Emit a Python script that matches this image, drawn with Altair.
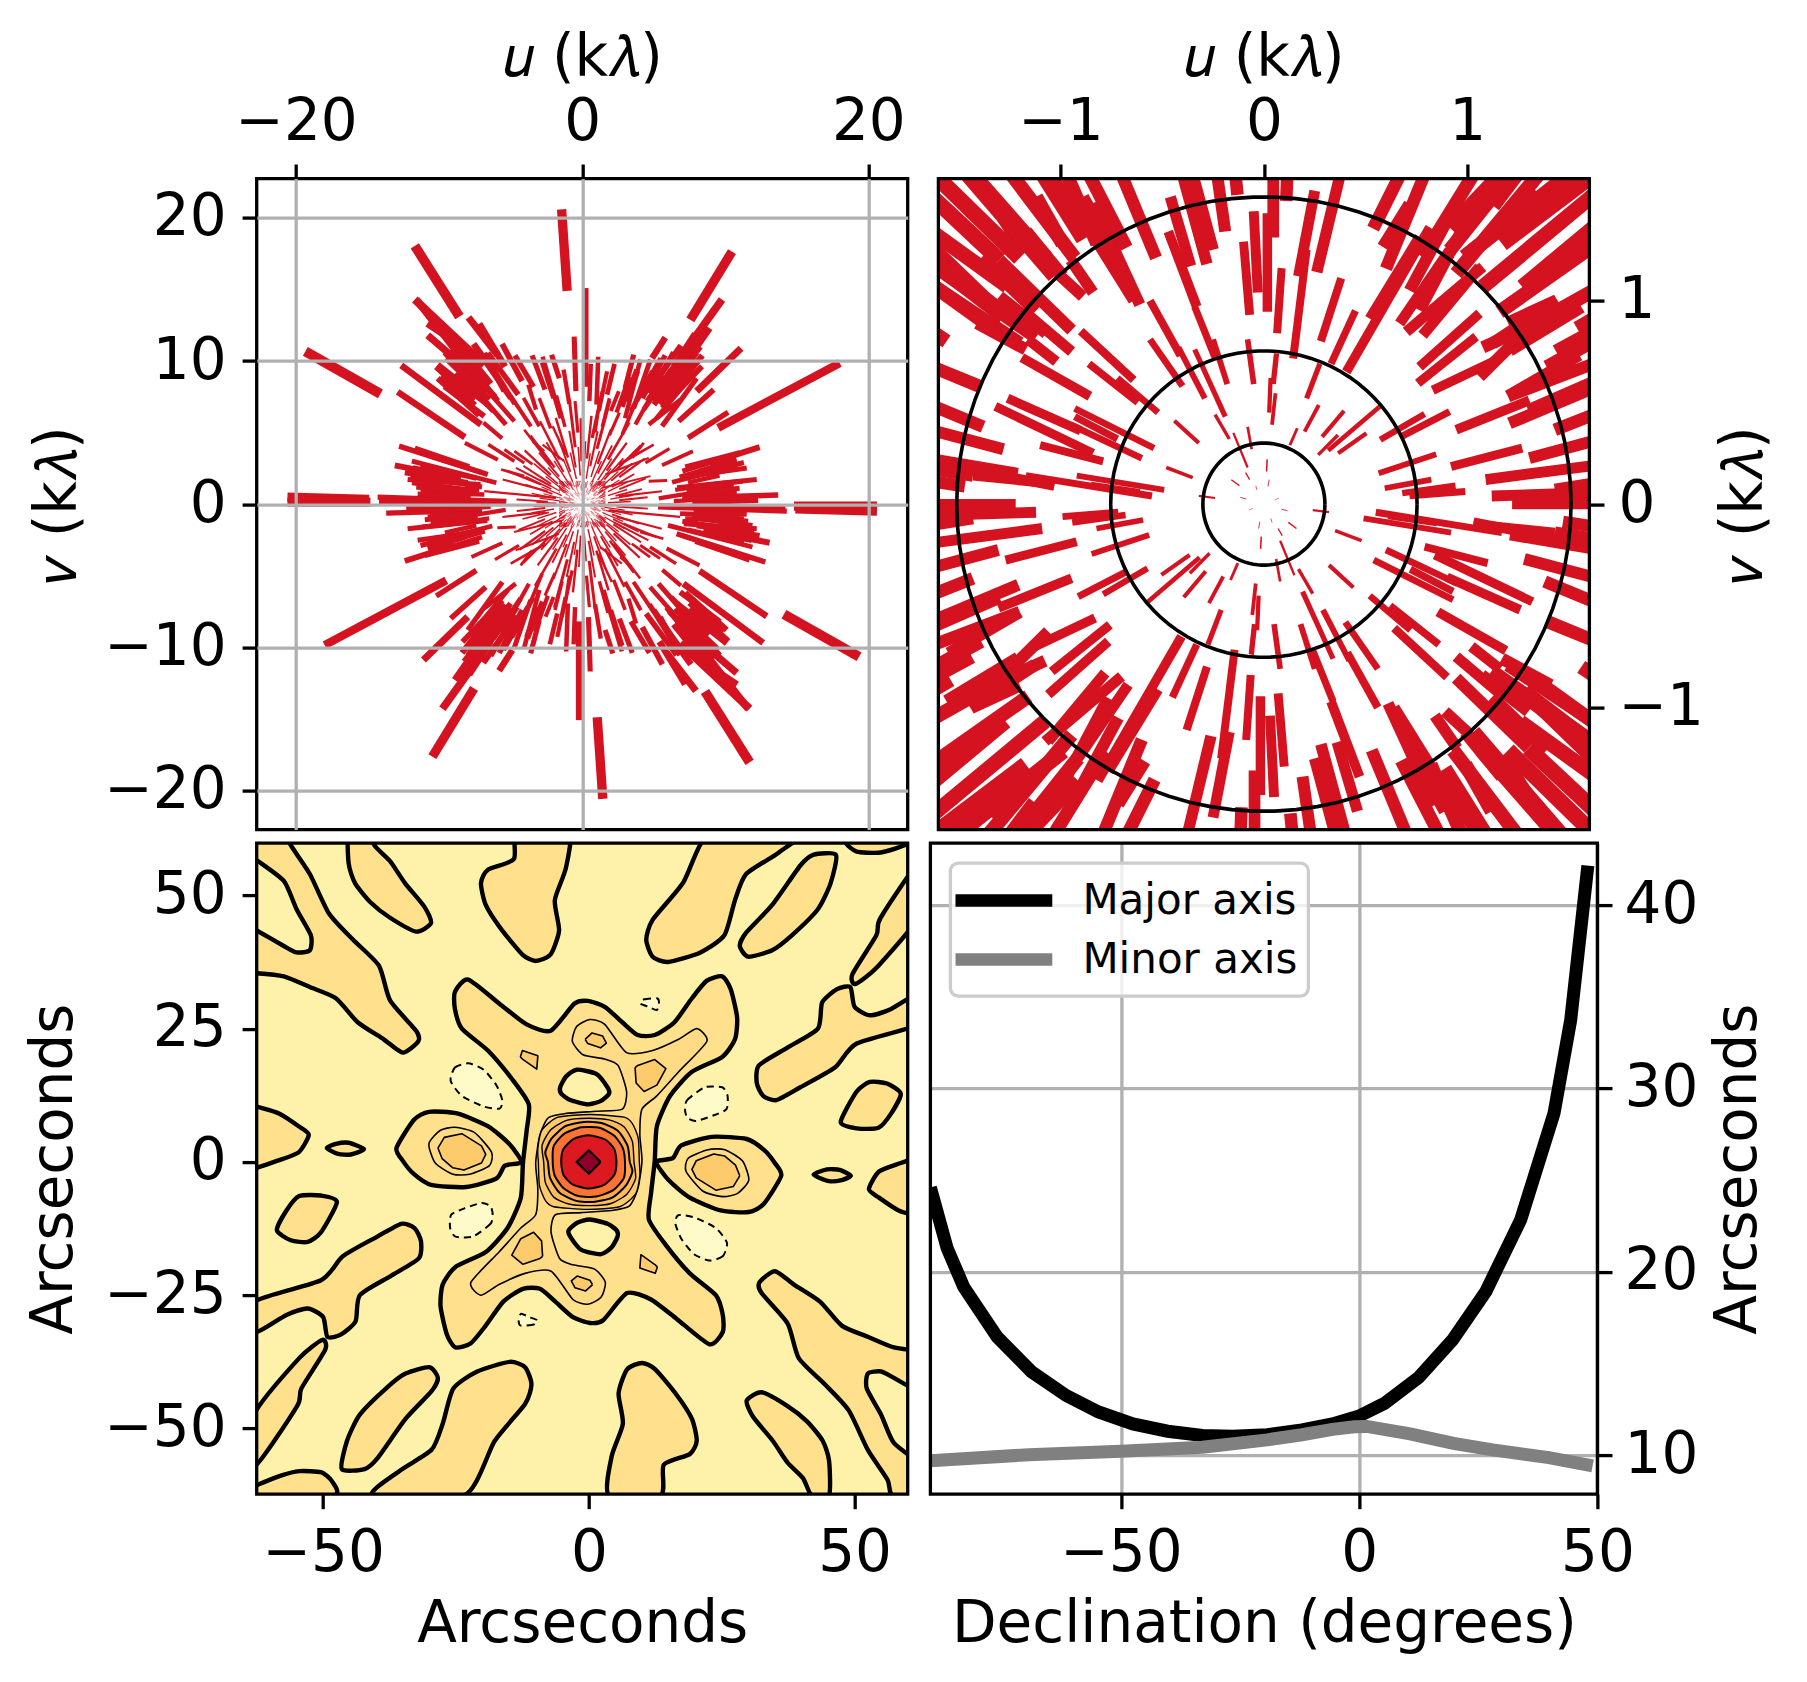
import altair as alt
import numpy as np
import pandas as pd

RED = '#d41220'
GRID = '#b0b0b0'
FONT = 'DejaVu Sans'
UTITLE = '𝑢 (k𝜆)'
VTITLE = '𝑣 (k𝜆)'

# uv tracks, half plane only (u1, v1, u2, v2 in klambda), the other half is the conjugate
UV_INNER_LEFT = [
    (-.03,1.04,-.05,1.44),(-.07,.93,-.10,1.29),(-.05,.59,-.08,.81),(-.18,.59,-.25,.81),(-.06,.27,-.08,.38),
    (-.08,.18,-.15,.35),(-.17,.32,-.24,.44),(-.32,.30,-.44,.41),(-.35,.13,-.48,.18),(-.24,.03,-.32,.04),
    (-.12,.09,-.16,.12),(-.07,.12,-.09,.155),(-.034,.07,-.04,.09),(-.087,.025,-.116,.033),(-.62,.50,-.86,.69),
    (-.52,.45,-.72,.62),(-.64,.61,-.90,.85),(-.40,.58,-.56,.81),(-.29,.52,-.42,.77),(-.41,.73,-.56,1.0),
    (-.19,.43,-.34,.76),(-.24,.72,-.34,.97),(-.33,.97,-.47,1.34),(-.36,1.17,-.46,1.51),(-.28,1.18,-.40,1.62),
    (-.25,1.25,-.35,1.62),(-.19,1.34,-.23,1.62),(-.13,1.52,-.14,1.62),(-.53,1.21,-.70,1.62),(-.61,.98,-.84,1.48),
    (-.64,1.0,-.855,1.345),(-.675,1.26,-.86,1.62),(-.90,1.35,-1.05,1.62),(-.84,1.04,-.95,1.20),(-.89,1.02,-1.01,1.13),
    (-.93,1.21,-1.24,1.62),(-.99,1.28,-1.12,1.51),(-.89,1.30,-1.09,1.62),(-1.17,1.24,-1.36,1.54),(-1.2,1.21,-1.62,1.62),
    (-.945,.855,-1.30,1.20),(-1.30,1.20,-1.62,1.50),(-1.12,.95,-1.39,1.21),(-1.12,.82,-1.62,1.17),(-1.2,.79,-1.62,1.07),
    (-1.30,.84,-1.62,1.07),(-.945,.75,-1.17,.94),(-1.02,.70,-1.16,.81),(-.855,.53,-1.19,.72),(-1.40,.58,-1.62,.67),
    (-.54,.275,-.93,.47),(-.72,.32,-.93,.43),(-.90,.36,-1.26,.52),(-.60,.225,-.95,.39),(-.84,.25,-1.32,.48),
    (-.79,.21,-1.10,.29),(-1.38,.38,-1.62,.48),(-1.28,.27,-1.62,.36),(-1.21,.15,-1.62,.22),(-1.03,.10,-1.43,.14),
    (-.49,.07,-.92,.14),(-.55,.04,-1.17,.14),(-1.47,.087,-1.62,.11),(-1.22,-.003,-1.62,-.003),(-.61,.06,-.85,.095),
    (-1.56,.80,-1.62,.84),
    (-1.03,1.12,-1.46,1.62),(-1.07,1.21,-1.43,1.62),(-1.26,1.07,-1.62,1.33),(-1.28,.92,-1.62,1.18),(-1.31,.95,-1.62,1.25),
    (-1.18,.87,-1.39,1.03),(-1.07,.84,-1.30,1.02),(-1.17,.76,-1.41,.89),(-.99,1.12,-1.17,1.34),(-.82,1.28,-.97,1.62),
    (-.72,1.2,-.89,1.51),(-1.03,.09,-1.44,.17),(-1.43,.14,-1.62,.17),
]
UV_INNER_RIGHT = [
    (.04,.39,.057,.545),(.026,.45,.033,.62),(.046,.59,.062,.74),(.144,.716,.21,1.25),(.26,1.14,.375,1.62),
    (.065,.84,.087,1.16),(.017,.945,.017,1.43),(.046,1.31,.046,1.62),(.11,1.49,.115,1.62),(.17,1.12,.25,1.54),
    (.28,.80,.38,1.11),(.33,.69,.45,.95),(.21,.52,.275,.69),(.20,.356,.27,.487),(.286,.33,.394,.458),
    (.128,.29,.164,.373),(.267,.242,.364,.34),(.316,.263,.57,.48),(.365,.25,.504,.348),(.572,.316,.79,.443),
    (.675,.332,.913,.455),(.564,.152,.847,.245),(.594,.078,.823,.12),(.68,.054,.942,.09),(.716,.04,.99,.062),
    (.92,.185,1.27,.275),(1.09,.12,1.62,.19),(1.12,.04,1.62,.056),(.945,.365,1.305,.51),(1.207,.397,1.62,.57),
    (1.43,.365,1.62,.44),(1.305,.226,1.62,.31),(1.2,.53,1.55,.733),(.83,.56,1.125,.70),(.757,.594,1.043,.823),
    (.765,.675,1.06,.937),(1.06,.626,1.436,1.0),(1.125,.79,1.444,1.0),(1.207,.757,1.56,.97),(1.436,.75,1.62,.85),
    (1.54,.863,1.62,.91),(1.158,.945,1.62,1.27),(1.076,1.068,1.62,1.52),(1.27,1.068,1.62,1.36),(.986,1.215,1.50,1.62),
    (1.2,1.33,1.346,1.534),(1.125,1.468,1.24,1.62),(.945,1.133,1.35,1.62),(.70,.847,1.076,1.166),(.667,.888,.913,1.248),
    (.78,.83,1.06,1.166),(.52,.912,.765,1.313),(.405,.65,.815,1.36),(.60,1.158,.79,1.62),(.585,1.264,.716,1.476),
    (.537,1.354,.67,1.62),(.78,1.215,1.03,1.62),(.913,1.248,1.21,1.62),(.013,.16,.016,.22),(.02,.087,.026,.12),
    (.054,.02,.074,.03),
    (.765,.953,.98,1.36),(.716,1.05,.91,1.41),(.913,1.36,1.16,1.62),(1.17,1.28,1.62,1.62),(1.076,.77,1.47,.95),
    (1.2,.89,1.44,1.0),(1.3,.87,1.62,1.05),(1.39,.675,1.62,.80),(1.2,.53,1.62,.69),(1.3,.46,1.62,.60),(1.43,.07,1.62,.10),
]
UV_OUTER_LEFT = [
    (-1.05,14.9,-1.44,20.6),(-8.58,13.1,-11.7,18.05),(-14.1,7.7,-19.35,10.67),(-8.2,4.67,-12.9,7.84),(-7.07,5.56,-12.65,9.7),
    (-6.6,2.07,-12.8,4.05),(-5.9,3.1,-8.2,4.28),(-14.9,.33,-20.6,.49),(-5.3,.2,-14.3,.49),(-6.6,7.9,-11.6,14.3),
    (-8.9,11.4,-10.8,12.65),(-6.84,9.74,-11.7,14.3),(-7.3,8.8,-10.8,11.8),(-5.9,10.4,-7.95,13.05),(-5.44,7.9,-6.84,10.56),
    (-4.47,7.65,-6.6,10.56),(-6.6,6.95,-10.1,9.74),(-6.84,6.14,-9.63,8.23),(-5.33,5.56,-7.77,8.35),(-4.74,5.79,-6.37,7.65),
    (-3.58,5.44,-4.98,7.53),(-3,5.44,-4.1,7.42),(-3.23,6.6,-3.77,8.35),(-1.49,6,-2.77,10.3),(-1.6,8.8,-2.14,10.44),
    (-.44,7.9,-.56,11.7),(-4.74,3,-6.56,4.16),(-4.05,2.88,-5.44,3.81),(-3.47,2.77,-4.74,3.7),(-2.65,3.7,-3.47,4.4),
    (-2.19,2.77,-4.05,5.2),(-1.26,3,-2.77,4.16),(-1.14,3.47,-2.07,5.44),(-6,1.49,-11.9,3),(-7.1,1.37,-12.2,1.72),
    (-7.2,1.02,-11.3,1.02),(-8.47,1.84,-11.84,2.53),(-6.84,.67,-11,.79),(-4.05,1.95,-5.67,2.42),(-2.42,.9,-5.56,1.72),
    (-2.88,1.37,-5.2,2.3),(-2.19,1.26,-4.63,2.53),(-1.84,.44,-6.84,.9),
    (-5.9,7.2,-8.3,10.2),(-6.2,6.5,-8.8,9.2),(-7.6,7.2,-10.2,9.6),(-5.4,9.6,-7.2,12.6),(-4.2,8.6,-5.6,11.2),
    (-3.4,8.2,-4.7,10.4),(-2.6,8,-3.5,10.4),(-2,7.4,-2.8,9.9),(-2.2,5.3,-3,7.4),(-1.2,5.4,-1.8,7.6),
    (-.9,7,-1.3,9.4),(-.3,5,-.5,7.2),(-5.6,4.6,-6.9,5.7),(-9,1.9,-13.1,2.7),(-8,1,-11.9,1.5),
    (-7.8,.4,-10.8,.6),(-7.9,2.6,-11.7,3.9),
    (-6.1,7.5,-9.2,10.8),(-6.5,7.3,-9.6,10.6),(-7.2,6.2,-10.1,8.8),(-7.5,6.9,-9.8,9),(-6.4,8.4,-8.8,11.4),
    (-6.3,9.4,-7.6,11.2),(-5,7.4,-6.8,10),(-4.7,7,-6.3,9.6),(-6.9,7.7,-9.5,10.2),(-7.4,1.8,-11.3,2.7),
    (-7,1.2,-12,2),(-8,1.5,-12.4,2.2),(-7.7,.8,-11.6,1.2),(-8.6,.55,-11.5,.7),(-7,2.2,-10.8,3.4),(-8,.15,-12.5,.3),
]
UV_OUTER_RIGHT = [
    (.23,8.2,.23,15.1),(7.56,12.88,10.47,17.65),(6.9,10.3,9.77,14.3),(5,6.95,8.26,11),(5.58,6.72,8.37,9.63),
    (8,7.88,11.1,10.9),(6.74,5.79,9.19,8),(9.5,5.33,18,9.86),(7.4,4.63,10.2,6.42),(8.95,2.88,12.4,3.98),
    (5.58,2.72,7.74,3.7),(4.42,2.88,6.1,3.88),(6.28,1.53,10.7,2.65),(7.44,1.95,11.5,2.53),(6.63,1.14,12.2,1.72),
    (5.35,.4,10.6,1.26),(7,.44,13.7,.63),(7.7,.1,12.3,.26),(14.8,-.14,20.6,-.14),(5.35,-.14,14.2,-.19),
    (4.65,1.6,5.93,1.65),(4.88,10.2,5.81,11.65),(3,8.1,3.6,10.44),(1,6.95,1.12,10.3),(1.16,6.5,1.74,9.28),
    (1.74,7.65,2.26,9.8),(3,6,4.07,10.1),(3.6,6.7,4.77,10.1),(2.8,4.86,3.95,7.65),(4.53,7.2,5.7,8.93),
    (3.72,5.56,5,7.88),(4.65,5.56,6.86,7.3),(5.58,5.44,8,8.8),(2.56,2.77,5,4.16),(3.5,3.23,4.3,4.28),
    (2,6.5,2.56,7.88),(.7,4.63,1.4,7.88),(1.63,2.07,4.65,3.23),(1.4,1.14,4.77,1.95),(2.56,.56,5.58,.9),
    (7,2.3,10.6,3.4),(6.8,1.9,10.2,2.9),(7.3,.9,10.4,1.3),(7.6,.6,10.8,.9),(6.4,.2,9.9,.4),
    (7.4,1.5,9.6,2),(5.6,8.4,7.8,11.6),(4.6,7.8,6.9,11.1),(6,8.2,7.6,10.4),(3.8,7.2,5.5,10.2),
    (5.2,6,7,8.2),(4.3,6.6,6.2,9.4),(2.4,6.4,3.3,8.9),(3.1,7.2,3.9,9.3),(1.4,5.4,1.9,7.4),
    (.5,7.2,.6,9.8),(.9,5,1.2,7),(1.9,4.8,2.6,6.4),
    (7.2,2.6,11,3.6),(7.8,2,11.3,2.9),(7.6,1.2,11.2,1.6),(8.2,.8,11,1.1),(7,.3,11.5,.5),
    (8.2,2.3,10.8,3.1),(6.5,1,10,1.5),(5.4,7,8,10.6),(5.9,7.2,8,10),(6.2,7.6,8.4,10.4),
    (5,7.2,6.5,9.6),(5.2,7.8,7,10.2),(6.2,8.9,7.6,11),(4.9,8,6.4,10.6),(4.2,7.4,5.8,10.4),
    (3.4,6.5,4.9,9.3),(2.8,6.8,3.8,9.4),(6.6,9,8.9,12.3),(6.4,9.6,7.9,11.9),
]
# short tracks of the crowded middle zone of the top left panel (angle in degrees, r1, r2 in klambda)
UV_MID_POLAR = [
    (172,1.6,3.0),(168,2.0,3.6),(165,1.7,2.8),(161,2.2,4.2),(157,1.6,3.1),(154,2.4,4.4),(150,1.8,3.4),(147,2.6,4.9),
    (143,1.7,3.2),(140,2.2,4.4),(137,3,5.5),(133,1.8,3.5),(130,2.5,4.7),(127,3.2,6),(123,1.9,3.6),(120,2.6,5),
    (117,3.5,6.5),(113,1.7,3.4),(110,2.4,4.8),(107,3.4,6.3),(103,1.8,3.7),(100,2.6,5.2),(97,4,7.4),(94,2,4),
    (91,3,6),(87,2.2,4.4),(84,3.2,6.2),(81,1.8,3.6),(78,2.7,5.2),(75,4,7.5),(72,2,3.9),(69,3,5.6),
    (66,1.7,3.3),(63,2.4,4.6),(60,3.6,6.6),(57,2,3.8),(54,2.9,5.3),(51,1.7,3.2),(48,2.3,4.3),(45,3.3,5.8),
    (42,1.9,3.4),(39,2.6,4.5),(36,3.2,5.4),(33,1.8,3.1),(30,2.4,4.2),(26,2,3.5),(22,2.8,4.8),(18,1.9,3.3),
    (14,2.4,4.3),(10,2,3.6),(6,2.6,4.6),(3,1.8,3.4),(176,2.4,4.6),(178,1.8,3.2),
]
RING_RADII = [.30, .753, 1.51]

# contour polygons (arcsec), upper half, the lower half is the point reflection
FILL_LOBES = [
    [(-57.4,62.9),(-56.2,59.6),(-52.5,54),(-48.9,46.6),(-44.4,41.7),(-39.5,36.8),(-37.4,30.3),(-32.5,24.6),(-32.1,22.6),(-35,20.5),
     (-38.6,23),(-43.5,26.2),(-47.6,30.7),(-52.5,32.8),(-57.4,34.8),(-62.5,35.4),(-65.6,35.4),(-65.6,45),(-62.5,43.4),(-57.4,40.5),
     (-55,39.3),(-52.5,39.7),(-52.3,42.5),(-55,47.4),(-57.4,52.7),(-62.5,56.6),(-65.6,58.8),(-65.6,62.9)],
    [(-45.2,62.5),(-45.2,56),(-44,52.3),(-41.1,48.7),(-37.4,45.8),(-32.5,43.2),(-29.7,44.8),(-30.9,47.8),(-34.6,52.3),(-37.4,56.4),(-40.3,59.3),(-41.9,62.5)],
    [(-13.5,62.5),(-14.1,56.8),(-19,54.8),(-20.3,52.3),(-19.4,48.2),(-16.6,43.8),(-12.5,38.9),(-10,37.7),(-7.2,38.9),(-5.6,43.4),(-6.4,49.1),(-4.3,55.2),(-3.8,62.5)],
    [(23.4,62.5),(17.7,52.3),(12,45.4),(10.8,41.7),(12,38.5),(14.9,37.5),(21,39.3),(25.5,42.5),(27.5,49.1),(29.6,54),(35.7,58),(40.6,62.5)],
    [(28.4,40.5),(29.6,43),(34.5,48.2),(39.8,55.6),(42.2,57.6),(46.5,57.6),(45.5,52.3),(43.1,47.4),(38.2,42.5),(34.5,39.7),(30,38.5)],
    [(48,62.5),(48.4,59.8),(50.4,58.2),(54.5,58),(57.8,58.8),(63,60.9),(63,62.5)],
    [(63,57.2),(54.9,45.8),(54.1,42.5),(49.6,35.2),(50.2,33.4),(54.5,36.8),(63,47.4)],
    [(63,32),(56.9,28.7),(52.9,27.5),(50,29.1),(49.2,32.8),(46.7,32.4),(43.9,29.9),(43.1,25),(37.3,21.4),(32,18.1),(31.6,14.8),(32.8,12.4),(35.3,11.6),(39.8,14),(46.3,17.7),(50.4,22.2),(63,26.2)],
    [(47.4,7.5),(50.4,13.2),(52.9,15),(56.1,14.7),(58.7,12.8),(56.9,9.1),(54.5,6.4),(50.4,6.3)],
    [(-65.6,11.6),(-62.5,10.4),(-58.3,9.1),(-54.6,6.7),(-52.7,5.1),(-54.6,1.8),(-58.7,.2),(-62.5,-1.1),(-65.6,-1.9)],
    [(-49.3,2.6),(-47.6,3.4),(-45.2,3.6),(-42.3,2.4),(-44.8,1.4),(-47.2,1.5)],
    [(-36.2,2.6),(-32.9,7.9),(-30.1,9.4),(-24.8,9.1),(-19,6.7),(-15,3.4),(-12.7,0),(-15.8,-.7),(-17.4,-3.1),(-23.1,-4.7),(-29.7,-4.3),(-32.9,-2.3),(-35,.2)],
]
CENTRAL_HALF = [(12.4,.2),(12.8,6.7),(15.3,12.4),(19.4,16.9),(25.1,19.7),(27.5,23),(27.9,27.1),(26.7,32.4),(25.1,34.8),(22.2,34),(19.4,30.7),
    (16.1,26.2),(12.4,23.8),(9.2,23.8),(6.3,26.2),(3,29.1),(-.2,30.2),(-2.7,29.7),(-7.2,24.6),(-11.7,25.8),(-16.6,29.5),(-22.7,34.2),
    (-25.2,31.9),(-25.2,28.7),(-23.9,25),(-19,20.9),(-14.5,15.6),(-11.3,10.8),(-11.7,5.9),(-12.5,.2)]
HOLE = [(-5.4,14),(-4.3,16),(-2.3,17.3),(1.4,16.5),(3.5,14),(3.8,12.8),(2.2,11.4),(-.2,10.8),(-3.5,11.6),(-5.2,12.8)]
THIN_HALF = [(10,.2),(9.6,5.1),(10,9.9),(12.8,12.4),(16.9,16.9),(22.2,22.6),(20.3,25),(16.9,23),(12,20.9),(7.1,20.5),(3,25.8),(.2,26.7),
    (-2.3,25.4),(-3.1,22.6),(-1.1,20.1),(3,19.3),(5.5,18.1),(7.1,13.2),(6.3,9.9),(1.4,9.5),(-4.3,9.1),(-7.6,8.3),(-9.2,5.1),(-9.6,.2)]
LOBE_RING = [(-30.1,3.4),(-28,5.9),(-25.2,6.5),(-21.5,5.5),(-18.3,1.8),(-18.7,-.7),(-22.4,-2.3),(-25.6,-2.3),(-28.9,-.2)]
PATCHES = [
    [(-.7,23),(.6,24.2),(2.6,23.6),(3.3,22.3),(2.2,21.4),(-.2,22.2)],
    [(8.7,17.7),(9.2,18.1),(12.4,19.2),(14.5,17.5),(12.8,14.4),(10.4,13.2),(8.9,14.8)],
    [(-12.9,19.7),(-12.5,20.9),(-9.6,19.9),(-9.8,17.4),(-12.5,19.3)],
    [(-28.4,2.6),(-27.2,4.6),(-23.9,5.3),(-20.2,3),(-19.4,1.4),(-20.2,-.2),(-23.5,-1.5),(-25.6,-1.1),(-27.6,.6)],
]
RING_A = [(9.5,0),(9.3,4.4),(8.2,7.2),(6.6,8.4),(.3,8.9),(-5.8,8.4),(-8.8,6),(-9.6,2.5),(-9.7,0)]
RING_B = [(8.5,0),(8.2,3.8),(6.6,6.6),(3.8,7.9),(-.3,8.2),(-4.2,7.8),(-7.2,6),(-8.8,3.1),(-9.1,0)]
RING_C = [(7.7,0),(7.3,3),(5.5,5.8),(2.4,7.3),(-.9,7.5),(-4.4,6.7),(-7,4.4),(-8.2,1.8),(-8.2,0)]
RING_D = [(6.8,0),(6.4,2.6),(4.8,4.9),(2,6.4),(-1.4,6.5),(-4.6,5.3),(-6.6,3),(-7.2,0)]
RING_E = [(5.2,0),(4.8,2.4),(3.1,4.2),(0,5),(-2.9,4.3),(-4.8,2.4),(-5.2,0)]
DIAMOND = [(2.2,0),(0,2.2),(-2.3,0),(0,-2.2)]
NEGATIVE = [
    [(-26,15.2),(-25.2,17.7),(-22.7,18.5),(-19.8,17.3),(-17.4,14.4),(-16.3,11.6),(-16.8,10),(-19.8,10.4),(-23.9,12.4)],
    [(18.1,9.9),(18.5,11.6),(21.8,14),(25.1,14),(26.1,12.4),(25.9,9.9),(23.4,8.7),(20.2,7.7),(18.5,8.3)],
    [(9.7,29.7),(10.4,30.5),(12.8,30.7),(13.2,29.9),(12.8,28.5),(11.2,29.1)],
]

# synthesised beam size against declination
DEC_MAJOR = [-90,-86.5,-83,-76,-68.8,-61.5,-54.7,-47.5,-40.2,-32.9,-26.5,-19.3,-12,-5.6,0,5.3,12.5,19.6,26.6,33.9,40.9,44.4,48]
BEAM_MAJOR = [24.6,21.3,19.17,16.45,14.55,13.25,12.35,11.7,11.3,11.07,11.02,11.11,11.37,11.7,12.13,12.82,14.24,16.28,18.93,22.84,28.65,33.74,42.16]
DEC_MINOR = [-90,-69.3,-50,-32.9,-19.3,-12,-5.6,-1,1.6,10.7,19.8,28,39.8,49]
BEAM_MINOR = [9.69,10.02,10.21,10.43,10.83,11.11,11.4,11.54,11.56,11.16,10.64,10.28,9.86,9.41]

W = 651
H = 651


def frame(width):
    return alt.Chart(pd.DataFrame({'a': [0]})).mark_rect(fillOpacity=0, stroke='black', strokeWidth=3.3).encode(
        x=alt.value(0), x2=alt.value(width), y=alt.value(0), y2=alt.value(H))


def track_frame(rows):
    df = pd.DataFrame(rows, columns=['u1', 'v1', 'u2', 'v2'])
    df = pd.concat([df, -df], ignore_index=True)
    df['r'] = np.hypot((df.u1 + df.u2) / 2, (df.v1 + df.v2) / 2)
    return df


def tracks(rows, x, y, size_scale):
    return alt.Chart(track_frame(rows)).mark_rule(color=RED, clip=True).encode(
        x=x, y=y, x2='u2:Q', y2='v2:Q',
        size=alt.Size('r:Q', scale=size_scale, legend=None))


def shape_layer(polys, fill, x, y, width=2.0, dash=None, smooth=True):
    rows = []
    for n, pts in enumerate(polys):
        closed = list(pts) if smooth else list(pts) + [pts[0]]
        for i, (a, b) in enumerate(closed):
            rows.append({'poly': n, 'i': i, 'a': a, 'b': b})
    style = dict(fill=fill, stroke='black', strokeWidth=width, clip=True, strokeJoin='round')
    if smooth:
        style.update(interpolate='cardinal-closed', tension=.35)
    if dash:
        style['strokeDash'] = dash
    return alt.Chart(pd.DataFrame(rows)).mark_line(**style).encode(
        x=x, y=y, order='i:Q', detail='poly:N')


def flip(pts):
    return [(-a, -b) for a, b in pts]


def both(polys):
    return list(polys) + [flip(p) for p in polys]


def whole(half):
    return list(half[:-1]) + flip(half[:-1])


def polar_rows(table):
    rows = []
    for ang, r1, r2 in table:
        t = np.radians(ang)
        rows.append((r1 * np.cos(t), r1 * np.sin(t), r2 * np.cos(t), r2 * np.sin(t)))
    return rows


# top left, full uv coverage
a_x = alt.X('u1:Q', title=UTITLE, scale=alt.Scale(domain=[-22.75, 22.75], nice=False),
            axis=alt.Axis(orient='top', values=[-20, 0, 20], format='d', grid=True, zindex=1, labelPadding=12.5, titlePadding=6))
a_y = alt.Y('v1:Q', title=VTITLE, scale=alt.Scale(domain=[-22.75, 22.75], nice=False),
            axis=alt.Axis(orient='left', values=[-20, -10, 0, 10, 20], format='d', grid=True, zindex=1, titlePadding=16))
panel_a = alt.layer(
    tracks(UV_INNER_LEFT + UV_INNER_RIGHT + UV_OUTER_LEFT + UV_OUTER_RIGHT + polar_rows(UV_MID_POLAR), a_x, a_y,
           alt.Scale(domain=[0, 21], range=[0, 11])),
    frame(W),
).properties(width=W, height=H)

# top right, inner uv coverage with rings
b_x = alt.X('u1:Q', title=UTITLE, scale=alt.Scale(domain=[-1.6, 1.6], nice=False),
            axis=alt.Axis(orient='top', values=[-1, 0, 1], format='d', grid=False, labelPadding=12.5, titlePadding=6))
b_y = alt.Y('v1:Q', title=VTITLE, scale=alt.Scale(domain=[-1.6, 1.6], nice=False),
            axis=alt.Axis(orient='right', values=[-1, 0, 1], format='d', grid=False, titleAngle=270, labelPadding=14, titlePadding=70))
angles = np.radians(np.arange(0, 361, 4))
ring_df = pd.DataFrame([
    {'ring': k, 'i': i, 'u1': r * np.cos(t), 'v1': r * np.sin(t)}
    for k, r in enumerate(RING_RADII) for i, t in enumerate(angles)])
panel_b = alt.layer(
    tracks(UV_INNER_LEFT + UV_INNER_RIGHT, b_x, b_y, alt.Scale(domain=[0, 2], range=[0, 16])),
    alt.Chart(ring_df).mark_line(color='black', strokeWidth=3.6).encode(x=b_x, y=b_y, order='i:Q', detail='ring:N'),
    frame(W),
).properties(width=W, height=H)

# bottom left, synthesised beam
c_x = alt.X('a:Q', title='Arcseconds', scale=alt.Scale(domain=[-62.5, 60], nice=False),
            axis=alt.Axis(values=[-50, 0, 50], format='d', grid=False, titlePadding=12.5))
c_y = alt.Y('b:Q', title='Arcseconds', scale=alt.Scale(domain=[-62.3, 59.8], nice=False),
            axis=alt.Axis(values=[-50, -25, 0, 25, 50], format='d', grid=False, titlePadding=20))
panel_c = alt.layer(
    shape_layer(both(FILL_LOBES) + [whole(CENTRAL_HALF)], '#fee08d', c_x, c_y, 4.4),
    shape_layer(both([HOLE]), '#fef1a9', c_x, c_y, 4.4),
    shape_layer([whole(THIN_HALF)] + both([LOBE_RING]), '#fedb84', c_x, c_y, 1.6),
    shape_layer(both(PATCHES), '#fecb6c', c_x, c_y, 1.6, smooth=False),
    shape_layer([whole(RING_A)], '#fecb6c', c_x, c_y, 1.4),
    shape_layer([whole(RING_B)], '#fdbb5a', c_x, c_y, 1.4),
    shape_layer([whole(RING_C)], '#fda747', c_x, c_y, 2),
    shape_layer([whole(RING_D)], '#fc7433', c_x, c_y, 2),
    shape_layer([whole(RING_E)], '#dc1820', c_x, c_y, 2),
    shape_layer([DIAMOND], '#8e0029', c_x, c_y, 2.2, smooth=False),
    shape_layer(both(NEGATIVE), '#fffbc9', c_x, c_y, 2.0, dash=[7, 5]),
    frame(W),
).properties(width=W, height=H, view=alt.ViewConfig(fill='#fef1a9'))

# bottom right, beam size against declination
beam = pd.concat([
    pd.DataFrame({'dec': DEC_MAJOR, 'size': BEAM_MAJOR, 'axis': 'Major axis'}),
    pd.DataFrame({'dec': DEC_MINOR, 'size': BEAM_MINOR, 'axis': 'Minor axis'}),
])
line = alt.Chart(beam).mark_line(strokeWidth=13, clip=True).encode(
    x=alt.X('dec:Q', title='Declination (degrees)', scale=alt.Scale(domain=[-90, 50], nice=False),
            axis=alt.Axis(values=[-50, 0, 50], format='d', grid=True, titlePadding=12.5)),
    y=alt.Y('size:Q', title='Arcseconds', scale=alt.Scale(domain=[7.87, 43.39], nice=False),
            axis=alt.Axis(orient='right', values=[10, 20, 30, 40], format='d', grid=True, titleAngle=270, labelPadding=12, titlePadding=70)),
    color=alt.Color('axis:N', scale=alt.Scale(domain=['Major axis', 'Minor axis'], range=['black', '#808080']),
                    legend=alt.Legend(orient='top-left', title=None, symbolType='M-1.62,0H3.22', symbolSize=1600,
                                      symbolStrokeWidth=12.5, labelFontSize=42, labelFont=FONT, labelOffset=68,
                                      labelLimit=400, fillColor='rgba(255,255,255,0.8)', strokeColor='#cccccc',
                                      cornerRadius=8, padding=11, rowPadding=7, offset=20)),
)
panel_d = alt.layer(line, frame(667)).properties(width=667, height=H)

indep = dict(size='independent', color='independent')
chart = alt.vconcat(
    alt.hconcat(panel_a, panel_b, spacing=26.7).resolve_scale(**indep),
    alt.hconcat(panel_c, panel_d, spacing=18.7).resolve_scale(**indep),
    spacing=9.5,
).resolve_scale(**indep).properties(padding={'left': 16.7, 'top': 20.6, 'right': 5, 'bottom': 8}).configure_view(stroke=None).configure_axis(
    labelFont=FONT, titleFont=FONT, labelFontSize=58, titleFontSize=58, titleFontWeight='normal',
    labelColor='black', titleColor='black', tickColor='black', tickSize=14.6, tickWidth=3.3,
    domain=False, gridColor=GRID, gridWidth=3.3, labelPadding=16, titlePadding=14, labelOverlap=False, labelFlush=False,
).configure_legend(strokeWidth=3.3)
chart.save("out.html", embed_options={"renderer": "svg", "actions": False})
